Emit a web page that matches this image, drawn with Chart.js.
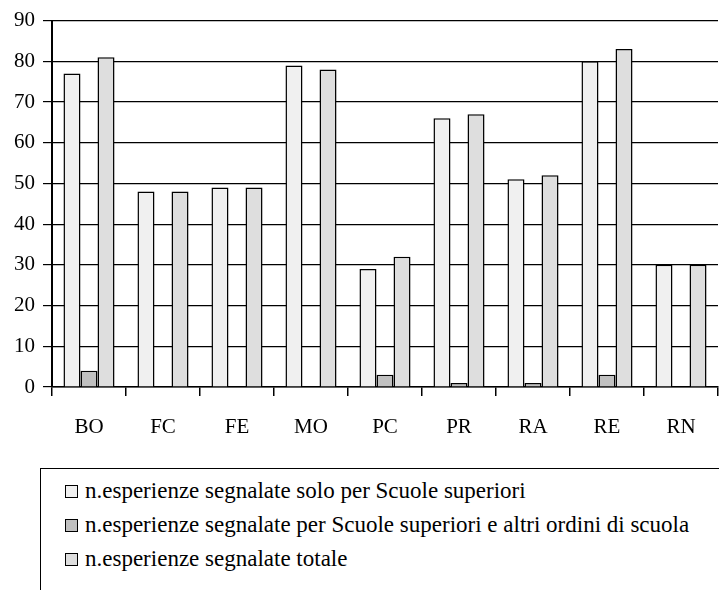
<!DOCTYPE html>
<html>
<head>
<meta charset="utf-8">
<script src="https://cdn.jsdelivr.net/npm/chart.js@4/dist/chart.umd.min.js"></script>
<style>
  html, body { margin: 0; padding: 0; background: #fff; }
  #wrap { position: relative; width: 719px; height: 590px; overflow: hidden; }
  #legend {
    position: absolute; left: 40px; top: 468px; width: 680px; height: 140px;
    border: 1.5px solid #000; box-sizing: border-box;
    font-family: "Liberation Serif", Tinos, "Times New Roman", "DejaVu Serif", serif;
    font-size: 23px; color: #000;
    padding-top: 5px;
  }
  .item { height: 34px; line-height: 34px; padding-left: 24px; white-space: nowrap; }
  .box {
    display: inline-block; width: 11px; height: 11px; border: 1.5px solid #000;
    margin-right: 7px; vertical-align: 0px;
  }
</style>
</head>
<body>
<div id="wrap">
  <canvas id="chart" width="719" height="460"></canvas>
  <div id="legend"></div>
</div>
<script>
// province
const categories = ['BO', 'FC', 'FE', 'MO', 'PC', 'PR', 'RA', 'RE', 'RN'];

// valori
const soloSuperiori = [77, 48, 49, 79, 29, 66, 51, 80, 30];
const superioriEAltri = [4, 0, 0, 0, 3, 1, 1, 3, 0];
const totale = [81, 48, 49, 78, 32, 67, 52, 83, 30];

const seriesNames = [
    'n.esperienze segnalate solo per Scuole superiori',
    'n.esperienze segnalate per Scuole superiori e altri ordini di scuola',
    'n.esperienze segnalate totale'
];
const seriesColors = ['#f0f0f0', '#c0c0c0', '#dedede'];

const yTicks = [0, 10, 20, 30, 40, 50, 60, 70, 80, 90];

const font = { family: '"Liberation Serif", Tinos, "Times New Roman", "DejaVu Serif", serif', size: 21 };

const ctx = document.getElementById('chart').getContext('2d');

const chart = new Chart(ctx, {
    type: 'bar',
    data: {
        labels: categories,
        datasets: [soloSuperiori, superioriEAltri, totale].map((values, i) => ({
            label: seriesNames[i],
            data: values,
            backgroundColor: seriesColors[i],
            borderColor: '#000',
            borderWidth: 1.5,
            borderSkipped: 'bottom'
        }))
    },
    options: {
        responsive: false,
        animation: false,
        layout: { padding: { top: 19, right: 1, left: 0, bottom: 0 } },
        categoryPercentage: 0.69,
        barPercentage: 1,
        plugins: {
            legend: { display: false },
            tooltip: { enabled: false }
        },
        scales: {
            x: {
                grid: {
                    offset: true,
                    drawOnChartArea: false,
                    color: '#000',
                    lineWidth: 1.5,
                    tickLength: 9
                },
                border: { color: '#000', width: 1.5 },
                ticks: { color: '#000', font: font, padding: 19 },
                afterFit: scale => { scale.height = 73; }
            },
            y: {
                min: 0,
                max: 90,
                afterBuildTicks: scale => { scale.ticks = yTicks.map(v => ({ value: v })); },
                grid: { color: '#000', lineWidth: 1.2, tickLength: 9 },
                border: { color: '#000', width: 2 },
                ticks: { color: '#000', font: font, padding: 8 },
                afterFit: scale => { scale.width = 52; }
            }
        }
    }
});

// legenda in HTML sotto il grafico
const legend = document.getElementById('legend');
chart.data.datasets.forEach(ds => {
    const row = document.createElement('div');
    row.className = 'item';
    const box = document.createElement('span');
    box.className = 'box';
    box.style.background = ds.backgroundColor;
    row.appendChild(box);
    row.appendChild(document.createTextNode(ds.label));
    legend.appendChild(row);
});
</script>
</body>
</html>
